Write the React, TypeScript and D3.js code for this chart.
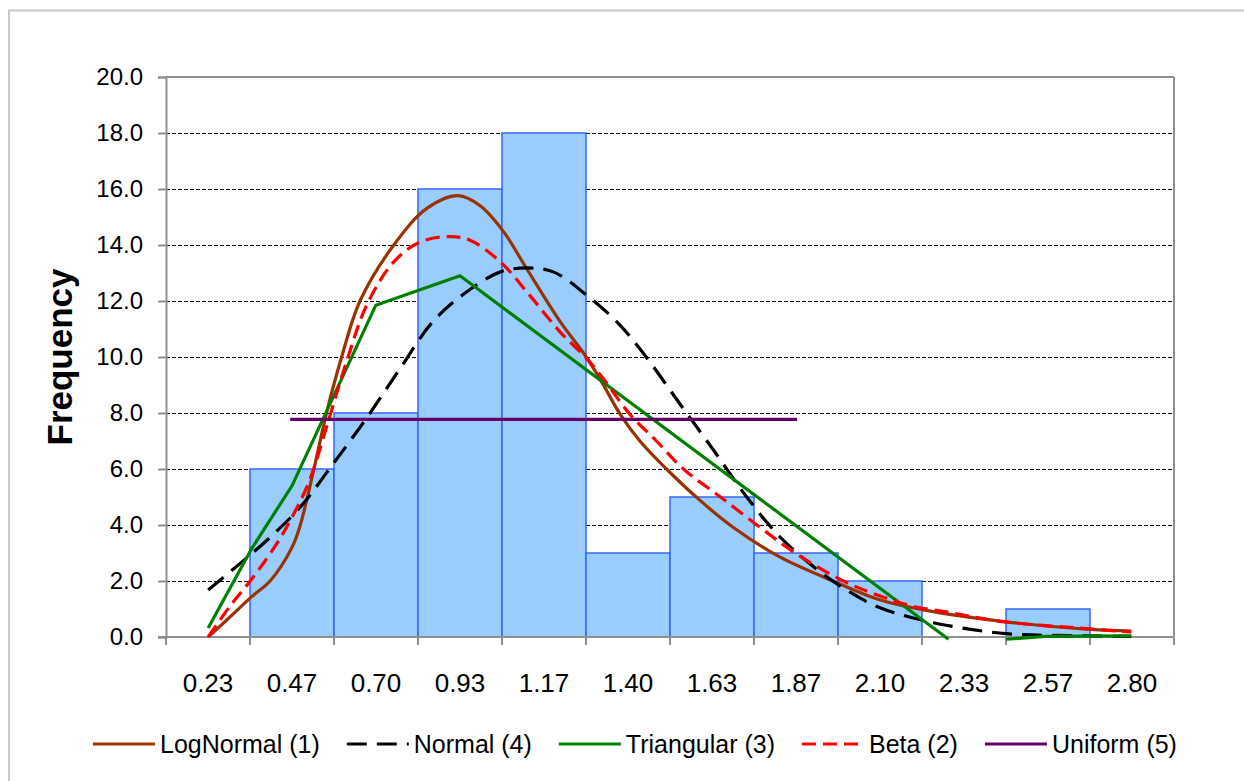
import { useEffect, useRef } from 'react';
import * as d3 from 'd3';

// histogram bins (bin centres) and observed frequencies
const categories = ['0.23', '0.47', '0.70', '0.93', '1.17', '1.40', '1.63', '1.87', '2.10', '2.33', '2.57', '2.80'];
const frequency = [0, 6, 8, 16, 18, 3, 5, 3, 2, 0, 1, 0];
const yTicks = [0, 2, 4, 6, 8, 10, 12, 14, 16, 18, 20];
const binWidth = 0.2335;

// fitted curves, [x, frequency]
const logNormal: [number, number][] = [
  [0.234, 0], [0.285, 0.6], [0.355, 1.44], [0.406, 2.0], [0.467, 3.2], [0.49, 4.0],
  [0.528, 6.0], [0.563, 8.0], [0.605, 10.0], [0.656, 12.0], [0.75, 14.0], [0.841, 15.3],
  [0.929, 15.76], [0.99, 15.4], [1.056, 14.46], [1.119, 13.16], [1.212, 11.27], [1.285, 10.0],
  [1.331, 9.04], [1.379, 7.96], [1.434, 7.0], [1.508, 6.0], [1.602, 4.87], [1.693, 3.92],
  [1.824, 2.85], [1.971, 2.0], [2.10, 1.33], [2.218, 0.98], [2.452, 0.54], [2.686, 0.27],
  [2.80, 0.21],
];
const normal: [number, number][] = [
  [0.234, 1.68], [0.323, 2.63], [0.407, 3.57], [0.49, 4.64], [0.581, 6.18], [0.675, 7.83],
  [0.768, 9.6], [0.859, 11.27], [0.953, 12.33], [1.046, 13.04], [1.119, 13.18], [1.193, 13.04],
  [1.287, 12.2], [1.378, 11.15], [1.452, 9.99], [1.545, 8.33], [1.639, 6.67], [1.731, 5.0],
  [1.823, 3.58], [1.917, 2.51], [2.008, 1.68], [2.10, 1.05], [2.194, 0.68], [2.285, 0.42],
  [2.452, 0.12], [2.686, 0.04], [2.80, 0.02],
];
const triangular: [number, number | null][] = [
  [0.234, 0.32], [0.355, 3.16], [0.467, 5.4], [0.70, 11.85], [0.934, 12.9], [2.292, -0.08],
  [2.37, null], [2.452, -0.08], [2.56, 0.02], [2.80, 0.04],
];
const beta: [number, number][] = [
  [0.234, 0], [0.294, 1.09], [0.36, 2.15], [0.425, 3.34], [0.472, 4.4], [0.516, 5.6],
  [0.563, 7.5], [0.619, 9.85], [0.675, 11.86], [0.75, 13.4], [0.822, 14.1], [0.906, 14.3],
  [0.962, 14.17], [1.046, 13.4], [1.128, 12.2], [1.212, 10.9], [1.285, 9.96], [1.331, 9.25],
  [1.406, 7.96], [1.48, 7.0], [1.555, 6.0], [1.658, 5.0], [1.768, 3.92], [1.87, 2.96],
  [2.0, 2.0], [2.10, 1.47], [2.194, 1.09], [2.285, 0.9], [2.436, 0.56], [2.686, 0.29],
  [2.80, 0.18],
];
const uniform: [number, number][] = [[0.462, 7.77], [1.871, 7.77]];

const series = [
  { name: 'LogNormal (1)', data: logNormal, color: '#993300', dash: null, smooth: true },
  { name: 'Normal (4)', data: normal, color: '#000000', dash: '20,10', smooth: true },
  { name: 'Triangular (3)', data: triangular, color: '#008000', dash: null, smooth: false },
  { name: 'Beta (2)', data: beta, color: '#FF0000', dash: '14,7', smooth: true },
  { name: 'Uniform (5)', data: uniform, color: '#660066', dash: null, smooth: false },
];

const FONT = '"Liberation Sans", Arial, sans-serif';

const App = () => {
  const ref = useRef<SVGSVGElement>(null);
  useEffect(() => {
    const svg = d3.select(ref.current);
    svg.selectAll('*').remove();
    const width = 1244;
    const height = 781;
    const margin = { top: 77, right: 70, bottom: 144, left: 166 };
    const innerWidth = width - margin.left - margin.right;
    const innerHeight = height - margin.top - margin.bottom;

    // outer chart frame
    svg.append('rect')
      .attr('x', 9).attr('y', 10.5).attr('width', 1260).attr('height', 800)
      .attr('fill', 'white').attr('stroke', '#c8c8c8').attr('stroke-width', 2);

    const g = svg.append('g').attr('transform', `translate(${margin.left},${margin.top})`);

    const xBand = d3.scaleBand().domain(categories).range([0, innerWidth]).padding(0);
    const xLin = d3.scaleLinear().domain([binWidth * 0.5, binWidth * 12.5]).range([0, innerWidth]);
    const yScale = d3.scaleLinear().domain([0, 20]).range([innerHeight, 0]);

    // gridlines
    g.selectAll('.grid').data(yTicks.filter(d => d > 0 && d < 20)).enter().append('line')
      .attr('x1', 0).attr('x2', innerWidth)
      .attr('y1', d => yScale(d) + 0.5).attr('y2', d => yScale(d) + 0.5)
      .attr('stroke', '#000').attr('stroke-width', 1).attr('stroke-dasharray', '4,2')
      .attr('shape-rendering', 'crispEdges');

    // plot frame top/right
    g.append('line').attr('x1', 0).attr('x2', innerWidth).attr('y1', 0).attr('y2', 0)
      .attr('stroke', '#909090').attr('stroke-width', 2);
    g.append('line').attr('x1', innerWidth).attr('x2', innerWidth).attr('y1', 0).attr('y2', innerHeight)
      .attr('stroke', '#909090').attr('stroke-width', 2);

    // bars
    g.selectAll('.bar').data(frequency.map((v, i) => ({ v, c: categories[i] })).filter(d => d.v > 0))
      .enter().append('rect')
      .attr('x', d => xBand(d.c)!)
      .attr('y', d => yScale(d.v))
      .attr('width', xBand.bandwidth())
      .attr('height', d => innerHeight - yScale(d.v))
      .attr('fill', '#99CCFF').attr('stroke', '#3366FF').attr('stroke-width', 1.5);

    // axes
    const yAxis = d3.axisLeft(yScale).tickValues(yTicks).tickFormat(d => (d as number).toFixed(1))
      .tickSize(8).tickPadding(15);
    const yG = g.append('g').call(yAxis);
    yG.select('.domain').attr('stroke', '#909090').attr('stroke-width', 2);
    yG.selectAll('.tick line').attr('stroke', '#909090').attr('stroke-width', 2);
    yG.selectAll('.tick text').attr('font-size', 24).attr('font-family', FONT).attr('fill', '#000');

    const xG = g.append('g').attr('transform', `translate(0,${innerHeight})`);
    xG.append('line').attr('x1', -8).attr('x2', innerWidth).attr('y1', 0).attr('y2', 0)
      .attr('stroke', '#909090').attr('stroke-width', 2);
    xG.selectAll('.xtick').data(d3.range(categories.length + 1)).enter().append('line')
      .attr('x1', i => i * xBand.step()).attr('x2', i => i * xBand.step())
      .attr('y1', 0).attr('y2', 8).attr('stroke', '#909090').attr('stroke-width', 2);
    xG.selectAll('.xlabel').data(categories).enter().append('text')
      .attr('x', d => xBand(d)! + xBand.bandwidth() / 2).attr('y', 55)
      .attr('text-anchor', 'middle').attr('font-size', 26).attr('font-family', FONT)
      .text(d => d);

    // fitted curves
    series.forEach(s => {
      const line = d3.line<[number, number | null]>()
        .defined(d => d[1] !== null)
        .x(d => xLin(d[0]))
        .y(d => yScale(d[1] as number))
        .curve(s.smooth ? d3.curveCatmullRom.alpha(0.5) : d3.curveLinear);
      g.append('path').datum(s.data as [number, number | null][])
        .attr('d', line)
        .attr('fill', 'none').attr('stroke', s.color).attr('stroke-width', 3.2)
        .attr('stroke-dasharray', s.dash);
    });

    // y title
    svg.append('text')
      .attr('transform', `translate(72,${margin.top + innerHeight / 2}) rotate(-90)`)
      .attr('text-anchor', 'middle').attr('font-size', 35).attr('font-weight', 'bold')
      .attr('font-family', FONT).text('Frequency');

    // legend
    const legend = svg.append('g').attr('transform', 'translate(93,744)');
    let cx = 0;
    series.forEach(s => {
      legend.append('line').attr('x1', cx).attr('x2', cx + 62).attr('y1', 0).attr('y2', 0)
        .attr('stroke', s.color).attr('stroke-width', 3.2).attr('stroke-dasharray', s.dash);
      const t = legend.append('text').attr('x', cx + 67).attr('y', 9)
        .attr('font-size', 25).attr('font-family', FONT).text(s.name);
      const w = (t.node() as SVGTextElement).getComputedTextLength();
      cx += 67 + w + 27;
    });
  }, []);

  return (
    <svg ref={ref} width={1244} height={781}
      style={{ position: 'absolute', left: 0, top: 0, background: 'white' }} />
  );
};

export default App;
